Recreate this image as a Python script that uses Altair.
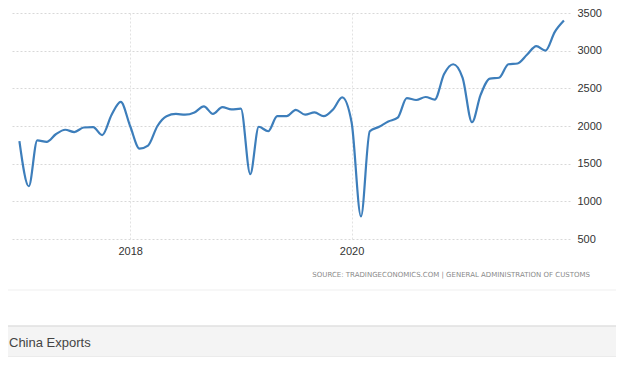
import altair as alt
import pandas as pd

months = pd.date_range("2017-01-01", "2021-12-01", freq="MS").strftime("%Y-%m-%d").tolist()
exports = [
    1800, 1200, 1810, 1790, 1890, 1950, 1920, 1980, 1985, 1880, 2150, 2320,
    2000, 1700, 1740, 2000, 2130, 2160, 2150, 2180, 2260, 2160, 2250, 2220,
    2230, 1360, 1990, 1930, 2130, 2130, 2215, 2150, 2180, 2130, 2220, 2380,
    2050, 800, 1930, 1990, 2060, 2110, 2370, 2345, 2385, 2350, 2690, 2820,
    2640, 2050, 2410, 2630, 2640, 2820, 2830, 2945, 3060, 3000, 3250, 3400,
]
y_ticks = [500, 1000, 1500, 2000, 2500, 3000, 3500]
x_ticks = ["2018-01-01", "2020-01-01"]
source_text = "SOURCE: TRADINGECONOMICS.COM  |  GENERAL  ADMINISTRATION  OF  CUSTOMS"
title_text = "China Exports"

df = pd.DataFrame({"date": months, "value": exports})

W, H = 560, 226

line = alt.Chart(df).mark_line(
    interpolate="monotone", color="#3d7ebb", strokeWidth=2.2
).encode(
    x=alt.X(
        "date:T",
        scale=alt.Scale(domain=["2016-12-01", "2021-12-21"]),
        axis=alt.Axis(
            values=x_ticks, format="%Y", title=None, ticks=False, domain=False,
            labelPadding=6, labelFont="Liberation Sans", labelFontSize=11,
            labelColor="#333333", grid=True, gridColor="#e2e2e2", gridDash=[2, 2],
        ),
    ),
    y=alt.Y(
        "value:Q",
        scale=alt.Scale(domain=[500, 3500], nice=False, zero=False),
        axis=alt.Axis(
            values=y_ticks, format="d", orient="right", title=None, ticks=False,
            domain=False, labelPadding=7, labelFont="Liberation Sans",
            labelFontSize=11, labelColor="#333333", grid=True,
            gridColor="#d8d8d8", gridDash=[2, 2],
        ),
    ),
)

deco = pd.DataFrame({"k": [0]})
base = alt.Chart(deco)

source = base.mark_text(
    align="right", baseline="middle", font="DejaVu Sans", fontSize=7,
    color="#8a8a8a",
).encode(x=alt.value(580), y=alt.value(262), text=alt.value(source_text))

sep = base.mark_rule(color="#efefef", strokeWidth=1).encode(
    x=alt.value(-2), x2=alt.value(606), y=alt.value(277)
)

band = base.mark_rect(color="#f4f4f4").encode(
    x=alt.value(-2), x2=alt.value(606), y=alt.value(313), y2=alt.value(344)
)
band_top = base.mark_rule(color="#e0e0e0", strokeWidth=1.5).encode(
    x=alt.value(-2), x2=alt.value(606), y=alt.value(313)
)
band_bot = base.mark_rule(color="#e2e2e2", strokeWidth=1).encode(
    x=alt.value(-2), x2=alt.value(606), y=alt.value(344)
)
title = base.mark_text(
    align="left", baseline="middle", font="Liberation Sans", fontSize=13,
    color="#444444",
).encode(x=alt.value(-1), y=alt.value(330), text=alt.value(title_text))

chart = alt.layer(line, source, sep, band, band_top, band_bot, title).properties(
    width=W, height=H,
    autosize=alt.AutoSizeParams(type="none"),
    padding={"left": 2, "top": 5, "right": 46, "bottom": 118},
).configure_view(stroke=None)

chart.save("out.html", embed_options={"renderer": "svg", "actions": False})
